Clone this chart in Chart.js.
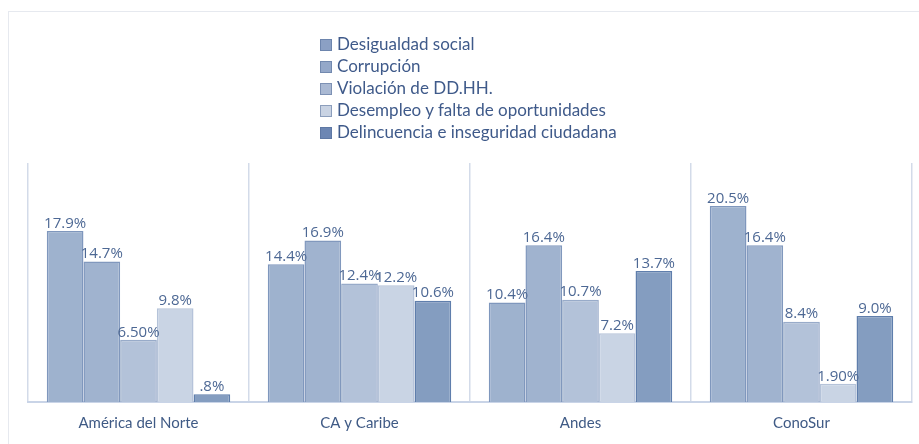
<html lang="es">
<head>
<meta charset="UTF-8">
<title>Problemas por región</title>
<script src="https://cdn.jsdelivr.net/npm/chart.js"></script>
<style>
  body, html {
    margin: 0;
    padding: 0;
    background: #fff;
    font-family: Lato, "Noto Sans", sans-serif;
  }
  .wrap {
    position: relative;
    width: 919px;
    height: 444px;
  }
  .frame {
    position: absolute;
    left: 8px;
    top: 11px;
    width: 920px;
    height: 440px;
    border-left: 1px solid #e6e9ef;
    border-top: 1px solid #e6e9ef;
  }
  #legend {
    position: absolute;
    left: 320px;
    top: 34px;
    margin: 0;
    padding: 0;
    list-style: none;
  }
  #legend li {
    height: 22px;
    line-height: 20px;
    font-size: 17px;
    color: #3f5a8a;
    white-space: nowrap;
  }
  #legend span {
    display: inline-block;
    width: 12px;
    height: 12px;
    margin-right: 5px;
    vertical-align: -1px;
    box-sizing: border-box;
    border: 1px solid rgba(80,105,150,0.5);
  }
  canvas { position: absolute; left: 0; top: 0; }
</style>
</head>
<body>
<div class="wrap">
  <div class="frame"></div>
  <canvas id="chart" width="919" height="444"></canvas>
  <ul id="legend"></ul>
</div>
<script>
  // categories and series
  var regiones = ['América del Norte', 'CA y Caribe', 'Andes', 'ConoSur'];
  var seriesNames = ['Desigualdad social', 'Corrupción', 'Violación de DD.HH.',
                     'Desempleo y falta de oportunidades', 'Delincuencia e inseguridad ciudadana'];

  var desigualdad  = [17.9, 14.4, 10.4, 20.5];
  var corrupcion   = [14.7, 16.9, 16.4, 16.4];
  var violacion    = [6.5, 12.4, 10.7, 8.4];
  var desempleo    = [9.8, 12.2, 7.2, 1.9];
  var delincuencia = [0.8, 10.6, 13.7, 9.0];

  // labels as printed on the bars
  var lblDesigualdad  = ['17.9%', '14.4%', '10.4%', '20.5%'];
  var lblCorrupcion   = ['14.7%', '16.9%', '16.4%', '16.4%'];
  var lblViolacion    = ['6.50%', '12.4%', '10.7%', '8.4%'];
  var lblDesempleo    = ['9.8%', '12.2%', '7.2%', '1.90%'];
  var lblDelincuencia = ['.8%', '10.6%', '13.7%', '9.0%'];

  var fills   = ['#9eb2ce', '#a0b3cf', '#b3c2d9', '#c9d4e4', '#849dc0'];
  var borders = ['#7f97bd', '#8198bd', '#98abc9', '#b5c3d9', '#5f7eac'];
  var swatch  = ['#8ba0c4', '#94a8c9', '#aab9d3', '#c9d3e3', '#6c86b3'];

  var allValues = [desigualdad, corrupcion, violacion, desempleo, delincuencia];
  var allLabels = [lblDesigualdad, lblCorrupcion, lblViolacion, lblDesempleo, lblDelincuencia];

  var datasets = seriesNames.map(function(name, i) {
    return {
      label: name,
      data: allValues[i],
      valueLabels: allLabels[i],
      backgroundColor: fills[i],
      borderColor: borders[i],
      borderWidth: 1.5,
      borderSkipped: 'bottom'
    };
  });

  // draw the value text above each bar
  var barLabels = {
    id: 'barLabels',
    afterDatasetsDraw: function(chart) {
      var ctx = chart.ctx;
      ctx.save();
      ctx.font = '15px "Open Sans", sans-serif';
      ctx.fillStyle = '#4d6894';
      ctx.textAlign = 'center';
      ctx.textBaseline = 'bottom';
      chart.data.datasets.forEach(function(ds, i) {
        chart.getDatasetMeta(i).data.forEach(function(bar, j) {
          ctx.fillText(ds.valueLabels[j], bar.x, bar.y);
        });
      });
      ctx.restore();
    }
  };

  var chart = new Chart(document.getElementById('chart').getContext('2d'), {
    type: 'bar',
    data: { labels: regiones, datasets: datasets },
    options: {
      responsive: false,
      animation: false,
      layout: { padding: { left: 28, right: 7, top: 163, bottom: 0 } },
      plugins: {
        legend: { display: false },
        tooltip: { enabled: false }
      },
      datasets: {
        bar: { categoryPercentage: 0.83, barPercentage: 1.0 }
      },
      scales: {
        x: {
          grid: {
            offset: true,
            drawTicks: false,
            color: function(c) { return c.index === 4 ? 'rgba(0,0,0,0)' : '#d3dbe9'; },
            lineWidth: 1.5
          },
          border: { display: true, color: '#c9d4e7', width: 2 },
          ticks: {
            padding: 12,
            color: '#3f5a85',
            font: { size: 15, family: 'Lato, "Noto Sans", sans-serif' }
          }
        },
        y: {
          display: false,
          min: 0,
          max: 25
        }
      }
    },
    plugins: [barLabels]
  });

  // vertical legend built from the chart's datasets
  var legend = document.getElementById('legend');
  chart.data.datasets.forEach(function(ds, i) {
    var li = document.createElement('li');
    var sw = document.createElement('span');
    sw.style.background = swatch[i];
    li.appendChild(sw);
    li.appendChild(document.createTextNode(ds.label));
    legend.appendChild(li);
  });
</script>
</body>
</html>
